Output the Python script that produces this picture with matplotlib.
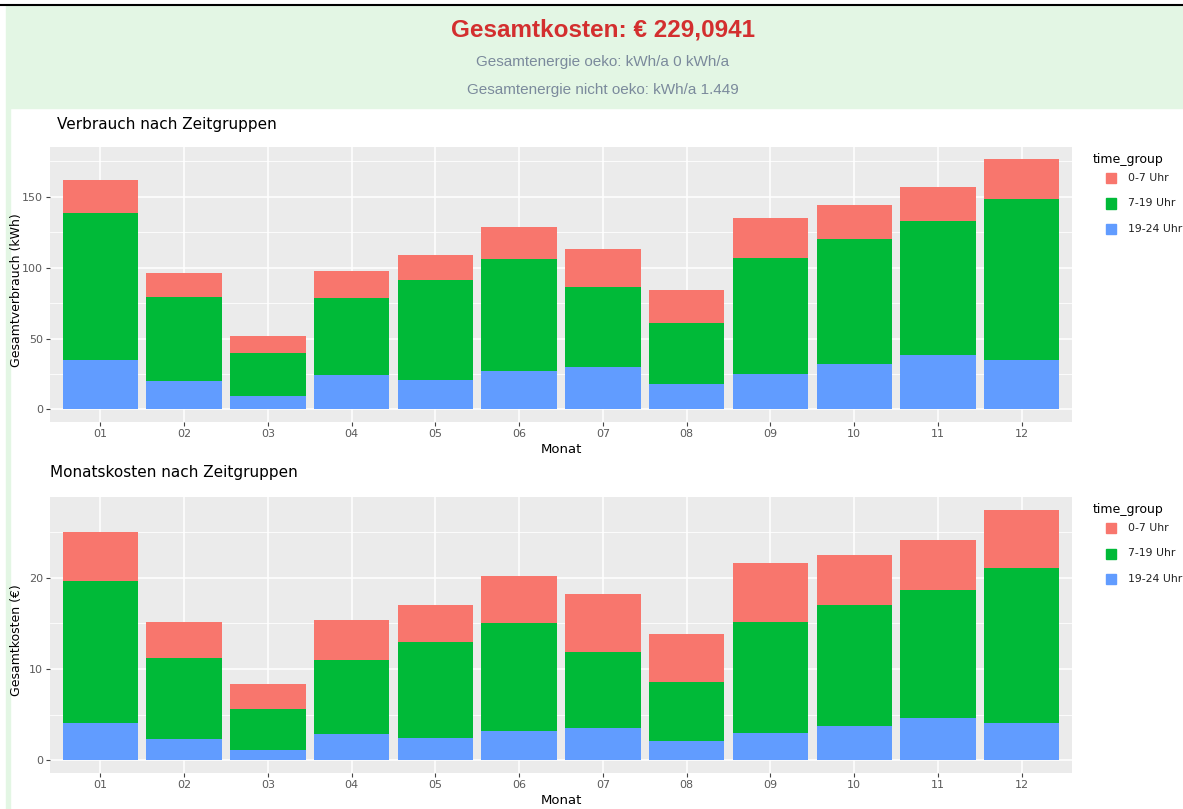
import matplotlib.pyplot as plt
import numpy as np
from matplotlib.patches import Rectangle

W, H = 1183, 809

MONTHS = ["01", "02", "03", "04", "05", "06", "07", "08", "09", "10", "11", "12"]
GROUPS = ["0-7 Uhr", "7-19 Uhr", "19-24 Uhr"]
COLORS = {"0-7 Uhr": "#F8766D", "7-19 Uhr": "#00BA38", "19-24 Uhr": "#619CFF"}

# kWh per month and time group
KWH_NIGHT = [23.3, 16.7, 11.7, 19.0, 17.7, 23.1, 27.3, 22.9, 28.4, 24.2, 24.0, 28.2]
KWH_DAY = [104.0, 59.2, 30.7, 54.0, 70.9, 78.8, 55.8, 43.3, 81.2, 87.5, 94.3, 113.4]
KWH_EVENING = [34.7, 20.1, 9.4, 24.4, 20.6, 27.0, 30.3, 18.0, 25.3, 32.4, 38.5, 34.7]

# cost per month and time group (EUR)
EUR_NIGHT = [5.4, 3.9, 2.73, 4.4, 4.0, 5.2, 6.3, 5.2, 6.5, 5.5, 5.5, 6.4]
EUR_DAY = [15.53, 8.83, 4.57, 8.1, 10.5, 11.8, 8.3, 6.5, 12.1, 13.2, 14.0, 16.95]
EUR_EVENING = [4.07, 2.37, 1.1, 2.9, 2.5, 3.2, 3.6, 2.1, 3.0, 3.8, 4.6, 4.1]


def px_axes(fig, x0, y0, x1, y1):
    return fig.add_axes([x0 / W, 1 - y1 / H, (x1 - x0) / W, (y1 - y0) / H])


def stacked_panel(fig, box, night, day, evening, ylabel, yticks, minor, title, title_x, title_y):
    ax = px_axes(fig, *box)
    x = np.arange(1, len(MONTHS) + 1)
    night = np.array(night)
    day = np.array(day)
    evening = np.array(evening)
    total = night + day + evening

    ax.set_facecolor("#EBEBEB")
    for s in ax.spines.values():
        s.set_visible(False)
    ax.set_axisbelow(True)
    for m in minor:
        ax.axhline(m, color="white", linewidth=0.6, zorder=0)
    for t in yticks:
        ax.axhline(t, color="white", linewidth=1.1, zorder=0)
    for xi in x:
        ax.axvline(xi, color="white", linewidth=1.1, zorder=0)

    ax.bar(x, evening, width=0.9, color=COLORS["19-24 Uhr"], zorder=2)
    ax.bar(x, day, width=0.9, bottom=evening, color=COLORS["7-19 Uhr"], zorder=2)
    ax.bar(x, night, width=0.9, bottom=evening + day, color=COLORS["0-7 Uhr"], zorder=2)

    top = total.max()
    ax.set_xlim(0.4, 12.6)
    ax.set_ylim(-0.05 * top, 1.05 * top)
    ax.set_xticks(x)
    ax.set_xticklabels(MONTHS, fontsize=8, color="#5A5A5A")
    ax.set_yticks(yticks)
    ax.set_yticklabels([str(t) for t in yticks], fontsize=8, color="#5A5A5A")
    ax.tick_params(length=3, color="#444444", width=0.8, pad=2)
    ax.set_xlabel("Monat", fontsize=9.5, color="black", labelpad=3)
    ax.set_ylabel(ylabel, fontsize=9, color="black")
    ax.yaxis.set_label_coords((23 - box[0]) / (box[2] - box[0]), 0.48)

    fig.text(title_x / W, 1 - title_y / H, title, fontsize=11, color="black",
             ha="left", va="center")

    # legend drawn like the ggplotly one
    lx, ly = box[2] + 21, box[1] + 13
    fig.text(lx / W, 1 - ly / H, "time_group", fontsize=9, color="black", va="center")
    for i, g in enumerate(GROUPS):
        yy = ly + 18 + i * 25.5
        fig.patches.append(Rectangle(((lx + 13) / W, 1 - (yy + 5) / H), 10 / W, 10 / H,
                                     transform=fig.transFigure, color=COLORS[g]))
        fig.text((lx + 35) / W, 1 - yy / H, g, fontsize=7.8, color="#222222", va="center")
    return ax


def main():
    plt.rcParams["font.family"] = ["DejaVu Sans"]
    fig = plt.figure(figsize=(W / 100, H / 100), dpi=100)
    fig.patch.set_facecolor("white")

    # header band and left stripe
    fig.patches.append(Rectangle((8 / W, 1 - 108 / H), 1, 102 / H,
                                 transform=fig.transFigure, color="#E3F6E4", zorder=-1))
    fig.patches.append(Rectangle((6 / W, 0), 4 / W, 1 - 6 / H,
                                 transform=fig.transFigure, color="#E3F6E4", zorder=-1))
    fig.add_artist(plt.Line2D([0, 1], [1 - 5 / H, 1 - 5 / H], transform=fig.transFigure,
                              color="black", linewidth=1.5))

    fig.text(603 / W, 1 - 30 / H, "Gesamtkosten: € 229,0941", fontsize=17.5,
             fontweight="bold", color="#D32F2F", ha="center", va="center",
             family=["Liberation Sans", "DejaVu Sans"])
    fig.text(603 / W, 1 - 62 / H, "Gesamtenergie oeko: kWh/a 0 kWh/a", fontsize=11,
             color="#7B8A9C", ha="center", va="center", family=["Liberation Sans"])
    fig.text(603 / W, 1 - 90 / H, "Gesamtenergie nicht oeko: kWh/a 1.449", fontsize=11,
             color="#7B8A9C", ha="center", va="center", family=["Liberation Sans"])

    stacked_panel(fig, (50, 147, 1072, 422), KWH_NIGHT, KWH_DAY, KWH_EVENING,
                  "Gesamtverbrauch (kWh)", [0, 50, 100, 150], [25, 75, 125, 175],
                  "Verbrauch nach Zeitgruppen", 57, 124)
    stacked_panel(fig, (50, 497, 1072, 773), EUR_NIGHT, EUR_DAY, EUR_EVENING,
                  "Gesamtkosten (€)", [0, 10, 20], [5, 15, 25],
                  "Monatskosten nach Zeitgruppen", 50, 473)

    fig.savefig("out.png", dpi=100)


if __name__ == "__main__":
    main()
